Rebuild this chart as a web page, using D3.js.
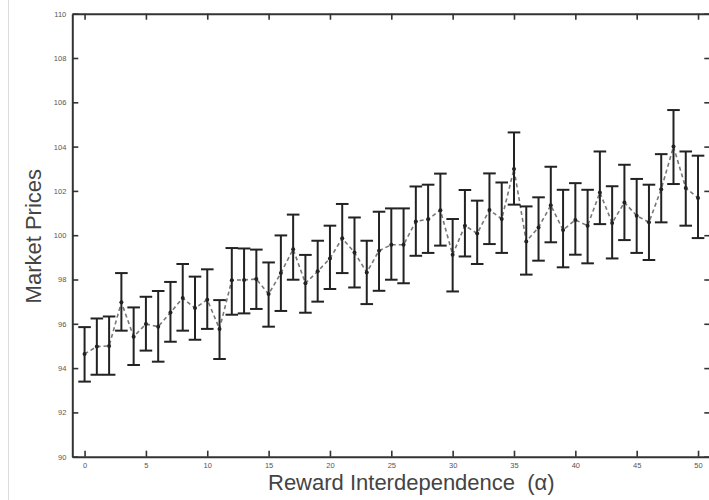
<!DOCTYPE html>
<html>
<head>
<meta charset="utf-8">
<script src="https://cdn.jsdelivr.net/npm/d3@7/dist/d3.min.js"></script>
<style>
  html, body { margin: 0; padding: 0; background: #fff; }
  svg { display: block; }
</style>
</head>
<body>
<svg id="chart" width="709" height="500"></svg>
<script>
// ---- data ----
const alphas = d3.range(0, 51); // 0..50
const meanPrice = [94.64, 94.97, 95.00, 96.97, 95.42, 95.99, 95.87, 96.51, 97.16, 96.71,
  97.09, 95.77, 97.97, 97.98, 98.02, 97.34, 98.29, 99.37, 97.83, 98.37,
  98.95, 99.86, 99.22, 98.32, 99.30, 99.57, 99.57, 100.62, 100.72, 101.13,
  99.12, 100.43, 100.08, 101.14, 100.73, 102.99, 99.72, 100.35, 101.35, 100.23,
  100.69, 100.43, 101.93, 100.55, 101.48, 100.88, 100.58, 102.08, 104.00, 102.13,
  101.68];
const upperPrice = [95.85, 96.24, 96.33, 98.29, 96.74, 97.22, 97.48, 97.89, 98.70, 98.13,
  98.46, 97.07, 99.42, 99.40, 99.35, 98.77, 99.99, 100.93, 99.11, 99.75,
  100.43, 101.41, 100.80, 99.75, 101.06, 101.21, 101.21, 102.20, 102.28, 102.78,
  100.73, 102.04, 101.56, 102.79, 102.38, 104.64, 101.30, 101.71, 103.09, 102.05,
  102.35, 102.05, 103.78, 102.21, 103.18, 102.54, 102.28, 103.66, 105.65, 103.78,
  103.59];
const lowerPrice = [93.39, 93.70, 93.70, 95.69, 94.14, 94.79, 94.29, 95.19, 95.69, 95.28,
  95.77, 94.41, 96.41, 96.47, 96.67, 95.87, 96.58, 97.99, 96.50, 97.00,
  97.57, 98.29, 97.64, 96.89, 97.49, 97.99, 97.83, 99.07, 99.20, 99.53,
  97.46, 99.04, 98.70, 99.60, 99.20, 101.38, 98.22, 98.85, 99.68, 98.55,
  99.12, 98.73, 100.50, 98.95, 99.78, 99.20, 98.88, 100.58, 102.31, 100.43,
  99.87];
const xTicks = [0, 5, 10, 15, 20, 25, 30, 35, 40, 45, 50];
const yTicks = [90, 92, 94, 96, 98, 100, 102, 104, 106, 108, 110];
const xLabel = "Reward Interdependence  (\u03b1)";
const yLabel = "Market Prices";

// ---- layout ----
const svg = d3.select("#chart");
const L = 72.3, R = 710.3, T = 13.7, B = 456.7;
const x = d3.scaleLinear().domain([-1, 51]).range([L, R]);
const y = d3.scaleLinear().domain([90, 110]).range([B, T]);
const font = "'Liberation Sans', Arial, Helvetica, sans-serif";
const axisColor = "#333";

// faint page border line at left
svg.append("line")
  .attr("x1", 8.5).attr("x2", 8.5).attr("y1", 0).attr("y2", 500)
  .attr("stroke", "#dcdcdc").attr("stroke-width", 1);

// ---- axes ----
function styleAxis(g) {
  g.selectAll(".domain").attr("stroke", axisColor).attr("stroke-width", 2);
  g.selectAll(".tick line").attr("stroke", axisColor).attr("stroke-width", 1.6);
  g.selectAll(".tick text").attr("fill", "#555").attr("font-size", 7.5)
    .attr("font-family", font);
}

svg.append("g").attr("transform", `translate(0,${B})`)
  .call(d3.axisBottom(x).tickValues(xTicks).tickSizeInner(-6).tickSizeOuter(0).tickPadding(6))
  .call(styleAxis);
svg.append("g").attr("transform", `translate(0,${T})`)
  .call(d3.axisTop(x).tickValues(xTicks).tickSizeInner(-6).tickSizeOuter(0).tickFormat(""))
  .call(styleAxis);
svg.append("g").attr("transform", `translate(${L},0)`)
  .call(d3.axisLeft(y).tickValues(yTicks).tickSizeInner(-6).tickSizeOuter(0).tickPadding(6))
  .call(styleAxis);
svg.append("g").attr("transform", `translate(${R},0)`)
  .call(d3.axisRight(y).tickValues(yTicks).tickSizeInner(-6).tickSizeOuter(0).tickFormat(""))
  .call(styleAxis);

// ---- dashed mean line ----
const line = d3.line().x((d, i) => x(alphas[i])).y(d => y(d));
svg.append("path").datum(meanPrice)
  .attr("d", line)
  .attr("fill", "none")
  .attr("stroke", "#777")
  .attr("stroke-width", 1.6)
  .attr("stroke-dasharray", "4,3");

// ---- error bars ----
const capW = 6.3;
const eb = svg.append("g").attr("stroke", "#222").attr("stroke-width", 2);
alphas.forEach((a, i) => {
  const cx = x(a);
  eb.append("line").attr("x1", cx).attr("x2", cx)
    .attr("y1", y(upperPrice[i])).attr("y2", y(lowerPrice[i]));
  eb.append("line").attr("x1", cx - capW).attr("x2", cx + capW)
    .attr("y1", y(upperPrice[i])).attr("y2", y(upperPrice[i]));
  eb.append("line").attr("x1", cx - capW).attr("x2", cx + capW)
    .attr("y1", y(lowerPrice[i])).attr("y2", y(lowerPrice[i]));
});

// ---- markers ----
svg.append("g").selectAll("circle").data(meanPrice).join("circle")
  .attr("cx", (d, i) => x(alphas[i]))
  .attr("cy", d => y(d))
  .attr("r", 2)
  .attr("fill", "#222");

// ---- axis labels ----
svg.append("text")
  .attr("x", 268).attr("y", 490)
  .attr("font-family", font).attr("font-size", 22)
  .attr("fill", "#444")
  .style("white-space", "pre")
  .attr("xml:space", "preserve")
  .text(xLabel);

svg.append("text")
  .attr("transform", `translate(41,${(T + B) / 2 + 1}) rotate(-90)`)
  .attr("text-anchor", "middle")
  .attr("font-family", font).attr("font-size", 22)
  .attr("fill", "#444")
  .text(yLabel);
</script>
</body>
</html>
